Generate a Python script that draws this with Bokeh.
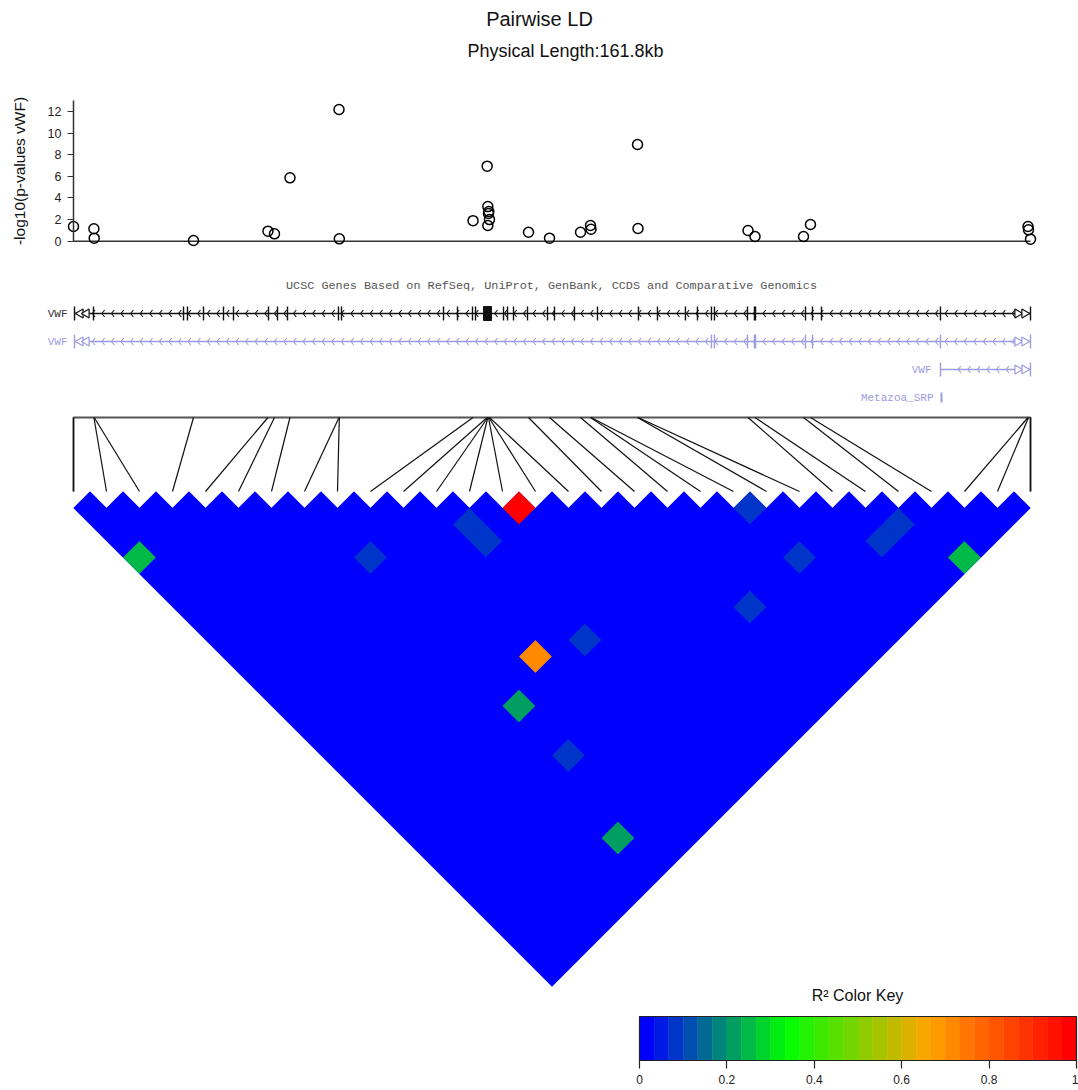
import numpy as np
from bokeh.plotting import figure
from bokeh.models import (Range1d, LinearAxis, FixedTicker, ColumnDataSource,
                          Label, CustomJSTickFormatter)
from bokeh.transform import linear_cmap
from bokeh.embed import file_html
from bokeh.resources import INLINE

W, H = 1078, 1090

# ---------------- data ----------------
region_kb = 161.8
snp_kb = [0.00, 3.45, 3.50, 20.29, 32.88, 33.98, 36.60, 44.89, 44.94, 67.55,
          69.94, 70.05, 70.05, 70.16, 70.22, 70.33, 76.93, 80.48, 85.72, 87.41,
          87.50, 95.36, 95.44, 114.04, 115.22, 123.42, 124.60, 161.38, 161.46, 161.80]
neg_log10_p = [1.36, 1.15, 0.28, 0.06, 0.93, 0.68, 5.86, 12.18, 0.22, 1.90,
               6.94, 3.20, 1.45, 2.56, 2.75, 2.00, 0.83, 0.28, 0.83, 1.45,
               1.10, 8.95, 1.17, 0.99, 0.43, 0.43, 1.54, 1.36, 1.05, 0.19]
pv_ticks = [0, 2, 4, 6, 8, 10, 12]

# pairwise LD (r^2) that stand out; all other pairs are low
ld_i = [13, 11, 11, 20, 0, 7, 20, 24, 23, 25, 17, 11, 9, 7, 7, 6]
ld_j = [14, 13, 14, 21, 4, 11, 24, 26, 26, 29, 24, 20, 19, 20, 23, 27]
ld_r2 = [0.97, 0.08, 0.08, 0.07, 0.25, 0.08, 0.07, 0.09, 0.09, 0.24,
         0.09, 0.08, 0.70, 0.20, 0.08, 0.22]
ld_background = 0.01
key_ticks = [0, 0.2, 0.4, 0.6, 0.8, 1]

# gene models (kb from first SNP)
gene1_start, gene1_end = 0.17, 161.80
gene1_exons = [3.38, 18.60, 19.27, 21.98, 25.36, 27.05, 32.97, 34.49, 36.18, 44.80,
               45.31, 62.56, 64.92, 67.46, 67.97, 72.70, 73.38, 74.39, 76.76, 80.14,
               81.32, 84.70, 88.59, 95.52, 98.73, 103.46, 105.49, 107.86, 108.37,
               113.95, 115.13, 115.30, 123.76, 124.94, 126.46, 146.58]
gene1_block = (69.32, 70.67)
gene2_start, gene2_end = 0.17, 161.80
gene2_exons = [107.86, 108.37, 113.95, 115.13, 115.30, 123.76, 124.94, 146.58]
gene3_start, gene3_end = 146.58, 161.80
srp_kb = 146.75

# ---------------- layout constants ----------------
X0, X1 = 73, 1030           # pixel span of region
ppk = (X1 - X0) / region_kb  # px per kb
Y_BRACKET_TOP, Y_DIAG = 417, 491
PV_ZERO, PV_PPU = 240.7, 10.81

p = figure(width=W, height=H, output_backend="svg", toolbar_location=None,
           x_range=Range1d(-X0 / ppk, (W - X0) / ppk), y_range=Range1d(H, 0),
           min_border=0, x_axis_location=None, y_axis_location=None,
           outline_line_color=None, background_fill_color="white")
p.grid.visible = False
p.extra_x_ranges = {"px": Range1d(0, W),
                    "key": Range1d(-639 / 437, (W - 639) / 437)}
p.extra_y_ranges = {"pv": Range1d(-(H - PV_ZERO) / PV_PPU, PV_ZERO / PV_PPU),
                    "hm": Range1d((H - Y_DIAG) / ppk, -Y_DIAG / ppk)}

SANS = "Liberation Sans"
MONO = "Liberation Mono"

# titles
p.add_layout(Label(x=539, y=18, x_range_name="px", text="Pairwise LD",
                   text_align="center", text_baseline="middle",
                   text_font=SANS, text_font_size="20px", text_color="#111"))
p.add_layout(Label(x=565, y=50, x_range_name="px", text="Physical Length:161.8kb",
                   text_align="center", text_baseline="middle",
                   text_font=SANS, text_font_size="18px", text_color="#111"))

# ---------------- scatter ----------------
p.segment(x0=[snp_kb[0]], x1=[snp_kb[-1]], y0=[0], y1=[0], y_range_name="pv",
          line_color="#333", line_width=1.5)
p.scatter(x=snp_kb, y=neg_log10_p, y_range_name="pv", marker="circle", size=10,
          fill_color=None, line_color="black", line_width=1.5)
ax = LinearAxis(y_range_name="pv", fixed_location=0, bounds=(0, 13),
                ticker=FixedTicker(ticks=pv_ticks),
                axis_label="-log10(p-values vWF)",
                axis_label_text_font=SANS, axis_label_text_font_size="15.5px",
                axis_label_text_font_style="normal", axis_label_standoff=17,
                axis_label_text_color="#111",
                major_label_text_font=SANS, major_label_text_font_size="12.5px",
                major_label_text_color="#222",
                major_label_standoff=6, major_tick_out=6, major_tick_in=0,
                minor_tick_out=0, minor_tick_in=0, axis_line_color="#333",
                major_tick_line_color="#333", axis_line_width=1.5)
p.add_layout(ax, "left")

# ---------------- gene track ----------------
p.add_layout(Label(x=551, y=285, x_range_name="px",
                   text="UCSC Genes Based on RefSeq, UniProt, GenBank, CCDS and Comparative Genomics",
                   text_align="center", text_baseline="middle", text_font=MONO,
                   text_font_size="11.8px", text_color="#555"))

BLACK, PURP = "#111111", "#9c9ce0"
tracks = [
    dict(y=313, start=gene1_start, end=gene1_end, exons=gene1_exons, color=BLACK, label_x=67),
    dict(y=341, start=gene2_start, end=gene2_end, exons=gene2_exons, color=PURP, label_x=67),
    dict(y=369, start=gene3_start, end=gene3_end, exons=[], color=PURP, label_x=931),
]
for t in tracks:
    y, c = t["y"], t["color"]
    p.segment(x0=[t["start"]], x1=[t["end"]], y0=[y], y1=[y], line_color=c, line_width=1.3)
    ex = [t["start"]] + list(t["exons"]) + [t["end"]]
    p.segment(x0=ex, x1=ex, y0=[y - 7] * len(ex), y1=[y + 7] * len(ex),
              line_color=c, line_width=1.4)
    cx = np.arange(t["start"] + 3.0, t["end"] - 2.5, 1.62)
    d = 2.8 / ppk
    xs = [[v + d, v, v + d] for v in cx]
    ys = [[y - 3.5, y, y + 3.5] for _ in cx]
    p.multi_line(xs=xs, ys=ys, line_color=c, line_width=1.1)
    rx = [t["end"] - 13 / ppk, t["end"] - 6 / ppk]
    p.scatter(x=rx, y=[y, y], marker="triangle", angle=-np.pi / 2, size=9,
              fill_color="white", line_color=c, line_width=1.2)
    if t["start"] < 1:
        lx = [t["start"] + 6 / ppk, t["start"] + 12 / ppk]
        p.scatter(x=lx, y=[y, y], marker="triangle", angle=np.pi / 2, size=9,
                  fill_color="white", line_color=c, line_width=1.2)
    p.add_layout(Label(x=t["label_x"], y=y, x_range_name="px", text="VWF",
                       text_align="right", text_baseline="middle", text_font=MONO,
                       text_font_size="11px",
                       text_color="#333" if c == BLACK else PURP))

p.quad(left=[gene1_block[0]], right=[gene1_block[1]], bottom=[320], top=[306],
       fill_color=BLACK, line_color=BLACK)
p.segment(x0=[srp_kb], x1=[srp_kb], y0=[392], y1=[402], line_color=PURP, line_width=2)
p.add_layout(Label(x=933, y=397, x_range_name="px", text="Metazoa_SRP",
                   text_align="right", text_baseline="middle", text_font=MONO,
                   text_font_size="11px", text_color=PURP))

# ---------------- SNP connector lines ----------------
n = len(snp_kb)
step = region_kb / (n - 1)
p.multi_line(xs=[[0, 0, region_kb, region_kb]],
             ys=[[Y_DIAG, Y_BRACKET_TOP, Y_BRACKET_TOP, Y_DIAG]],
             line_color="#555", line_width=2)
p.segment(x0=snp_kb, y0=[Y_BRACKET_TOP] * n, x1=[k * step for k in range(n)],
          y1=[Y_DIAG] * n, line_color="#111", line_width=1.2)

# ---------------- LD heatmap ----------------
anchors = np.array([[0, 0, 255], [0, 255, 0], [255, 165, 0], [255, 0, 0]], float)
NCOL = 30
palette = []
for k in range(NCOL):
    t = k / (NCOL - 1) * (len(anchors) - 1)
    a = min(int(t), len(anchors) - 2)
    f = t - a
    rgb = anchors[a] * (1 - f) + anchors[a + 1] * f
    palette.append("#%02x%02x%02x" % tuple(int(round(v)) for v in rgb))

r2 = np.full((n, n), ld_background)
for a, b, v in zip(ld_i, ld_j, ld_r2):
    r2[a, b] = v
cxs, cys, vals = [], [], []
h = step / 2
for i in range(n):
    for j in range(i + 1, n):
        cx = (i + j) / 2 * step
        cy = (j - i) / 2 * step
        cxs.append([cx - h, cx, cx + h, cx])
        cys.append([cy, cy - h, cy, cy + h])
        vals.append(r2[i, j])

# outline of the whole triangle (zig-zag top) as an underlay so cell seams vanish
ox, oy = [0.0], [h]
for k in range(n - 1):
    ox += [k * step + h, (k + 1) * step]
    oy += [0.0, h]
ox += [region_kb / 2]
oy += [region_kb / 2 + h]
p.patch(x=ox, y=oy, y_range_name="hm", fill_color=palette[0], line_color=None)

hm_src = ColumnDataSource(dict(xs=cxs, ys=cys, r2=vals))
cmap = linear_cmap("r2", palette, 0, 1)
p.patches(xs="xs", ys="ys", source=hm_src, y_range_name="hm",
          fill_color=cmap, line_color=None)

# ---------------- color key ----------------
edges = np.linspace(0, 1, NCOL + 1)
key_src = ColumnDataSource(dict(left=edges[:-1], right=edges[1:],
                                mid=(edges[:-1] + edges[1:]) / 2))
p.quad(left="left", right="right", bottom=1060, top=1016, source=key_src,
       x_range_name="key", fill_color=linear_cmap("mid", palette, 0, 1),
       line_color=linear_cmap("mid", palette, 0, 1), line_width=0.5)
p.quad(left=[0], right=[1], bottom=[1060], top=[1016], x_range_name="key",
       fill_color=None, line_color="#222", line_width=1.2)
kax = LinearAxis(x_range_name="key", fixed_location=1060, bounds=(0, 1),
                 ticker=FixedTicker(ticks=key_ticks),
                 formatter=CustomJSTickFormatter(code="return tick.toString()"),
                 major_label_text_font=SANS, major_label_text_font_size="12px",
                 major_label_text_color="#222",
                 major_label_standoff=6, major_tick_out=8, major_tick_in=0,
                 minor_tick_out=0, minor_tick_in=0, axis_line_color=None,
                 major_tick_line_color="#222", major_tick_line_width=1.2)
p.add_layout(kax, "below")
p.add_layout(Label(x=857, y=995, x_range_name="px", text="R² Color Key",
                   text_align="center", text_baseline="middle", text_font=SANS,
                   text_font_size="16px", text_color="#111"))

open("out.html", "w").write(file_html(p, INLINE))
